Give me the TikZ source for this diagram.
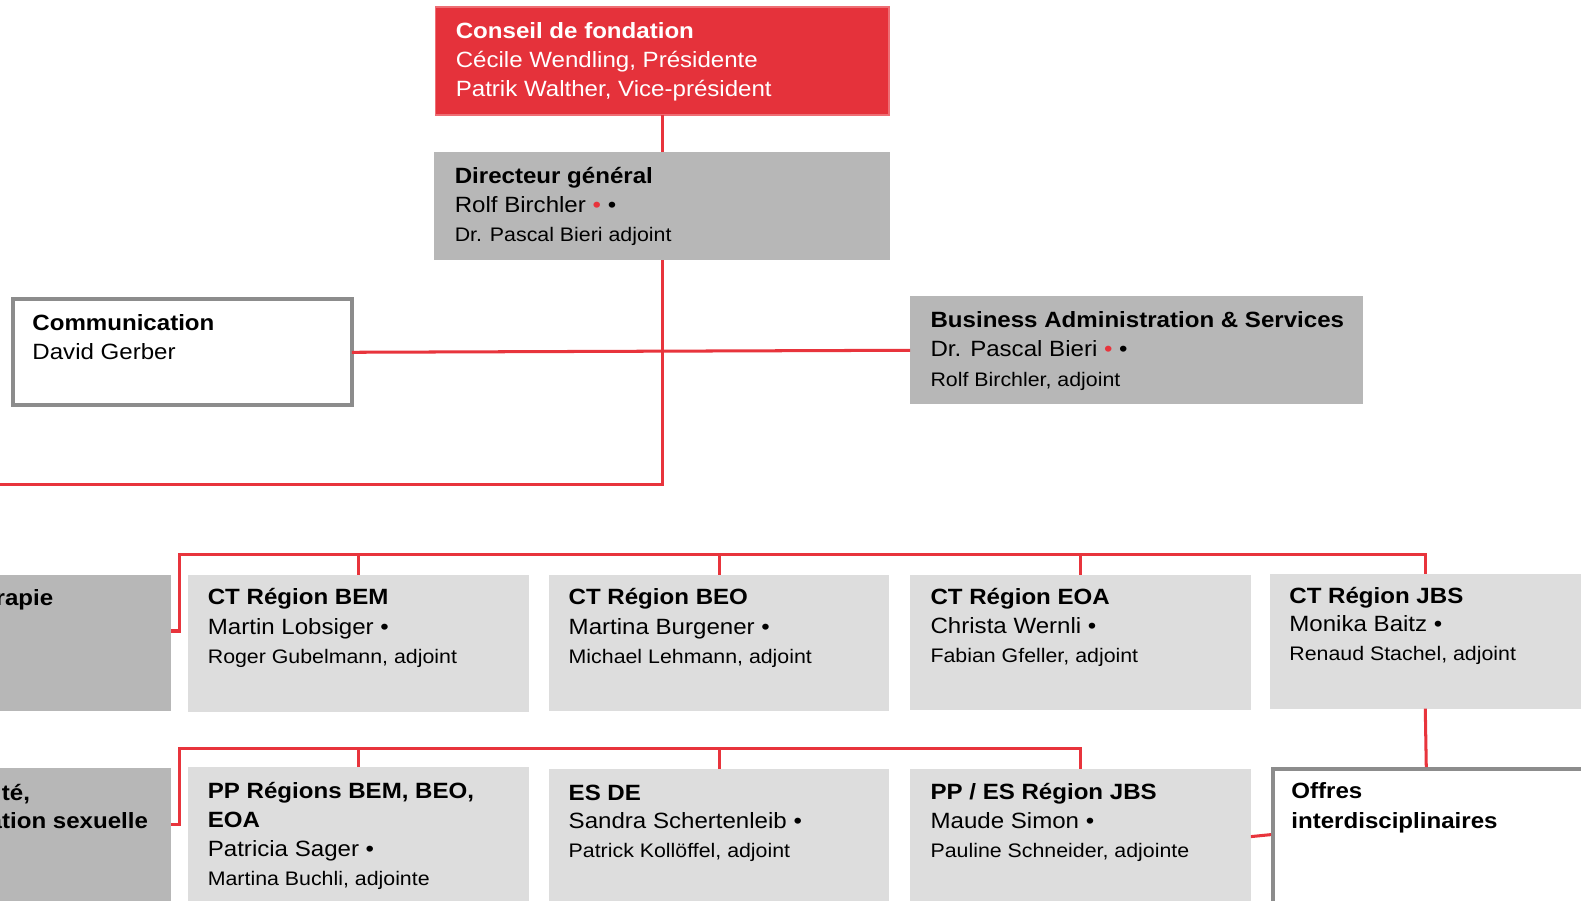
\documentclass[tikz,border=0pt]{standalone}
\usepackage{fontspec}
\setmainfont{Liberation Sans}[FakeStretch=1.09]
\usetikzlibrary{calc}
\definecolor{sred}{HTML}{E5323B}
\definecolor{sredlight}{HTML}{EE6E74}
\definecolor{lred}{HTML}{E8343C}
\definecolor{gdark}{HTML}{B7B7B7}
\definecolor{glight}{HTML}{DDDDDD}
\definecolor{gborder}{HTML}{8C8C8C}
\newcommand\orgbox[6]{\node[#2, minimum width={(#5-#3)*1bp}, minimum height={(#6-#4)*1bp}] (#1) at (#3,#4) {};}
\begin{document}
\begin{tikzpicture}[x=1bp,y=-1bp,
  bx/.style={inner sep=0, outer sep=0, anchor=north west, rectangle},
  redbox/.style={bx, fill=sred, draw=sredlight, line width=1.2bp},
  darkbox/.style={bx, fill=gdark},
  lightbox/.style={bx, fill=glight},
  whitebox/.style={bx, fill=white, draw=gborder, line width=4bp},
  ttl/.style={anchor=base west, inner sep=0, font=\fontsize{22}{26}\selectfont\bfseries},
  ttle/.style={ttl, anchor=base east},
  nm/.style={anchor=base west, inner sep=0, font=\fontsize{22}{26}\selectfont},
  sm/.style={anchor=base west, inner sep=0, font=\fontsize{19.5}{23}\selectfont},
  conn/.style={draw=lred, line width=3bp},
]
\useasboundingbox (0,0) rectangle (1568.5,893.8);
\clip (0,0) rectangle (1568.5,893.8);
\fill[white] (0,0) rectangle (1568.5,893.8);

% boxes
\orgbox{cf}{redbox}{432}{7}{882}{114}
\orgbox{dir}{darkbox}{431}{151}{883}{258}
\orgbox{com}{whitebox}{13}{297}{349}{402}
\orgbox{bas}{darkbox}{903}{294}{1352}{401}
\orgbox{lft1}{darkbox}{-10}{570}{170}{705}
\orgbox{bem}{lightbox}{187}{570}{525}{706}
\orgbox{beo}{lightbox}{545}{570}{882}{705}
\orgbox{eoa}{lightbox}{903}{570}{1241}{704}
\orgbox{jbs}{lightbox}{1260}{569}{1600}{703}
\orgbox{lft2}{darkbox}{-10}{762}{170}{910}
\orgbox{pp}{lightbox}{187}{761}{525}{910}
\orgbox{esde}{lightbox}{545}{763}{882}{910}
\orgbox{ppjbs}{lightbox}{903}{763}{1241}{910}
\orgbox{off}{whitebox}{1263}{763}{1600}{910}

% texts
\node[ttl, text=white] (cf1) at (452,38) {Conseil de fondation};
\node[nm, text=white] (cf2) at (452,67) {Cécile Wendling, Présidente};
\node[nm, text=white] (cf3) at (452,96) {Patrik Walther, Vice-président};

\node[ttl] (dir1) at (451,182.5) {Directeur général};
\node[nm] (dir2) at (451,211) {Rolf Birchler \textcolor{lred}{•} •};
\node[sm] (dir3) at (451,240) {Dr. Pascal Bieri adjoint};

\node[ttl] (com1) at (32,328) {Communication};
\node[nm] (com2) at (32,357) {David Gerber};

\node[ttl] (bas1) at (923,325) {Business Administration \& Services};
\node[nm] (bas2) at (923,354) {Dr. Pascal Bieri \textcolor{lred}{•} •};
\node[sm] (bas3) at (923,383) {Rolf Birchler, adjoint};

\node[ttle] (lft1a) at (53,601) {rapie};

\node[ttl] (bem1) at (206,600) {CT Région BEM};
\node[nm] (bem2) at (206,629) {Martin Lobsiger •};
\node[sm] (bem3) at (206,658) {Roger Gubelmann, adjoint};

\node[ttl] (beo1) at (564,600) {CT Région BEO};
\node[nm] (beo2) at (564,629) {Martina Burgener •};
\node[sm] (beo3) at (564,658) {Michael Lehmann, adjoint};

\node[ttl] (eoa1) at (923,600) {CT Région EOA};
\node[nm] (eoa2) at (923,628) {Christa Wernli •};
\node[sm] (eoa3) at (923,657) {Fabian Gfeller, adjoint};

\node[ttl] (jbs1) at (1279,598.5) {CT Région JBS};
\node[nm] (jbs2) at (1279,626.5) {Monika Baitz •};
\node[sm] (jbs3) at (1279,655.5) {Renaud Stachel, adjoint};

\node[ttle] (lft2a) at (30,794) {té,};
\node[ttle] (lft2b) at (147,822) {ation sexuelle};

\node[ttl] (pp1) at (206,792) {PP Régions BEM, BEO,};
\node[ttl] (pp2) at (206,820.5) {EOA};
\node[nm] (pp3) at (206,849.5) {Patricia Sager •};
\node[sm] (pp4) at (206,878.5) {Martina Buchli, adjointe};

\node[ttl] (es1) at (564,794) {ES DE};
\node[nm] (es2) at (564,822) {Sandra Schertenleib •};
\node[sm] (es3) at (564,851) {Patrick Kollöffel, adjoint};

\node[ttl] (pj1) at (923,793) {PP / ES Région JBS};
\node[nm] (pj2) at (923,822) {Maude Simon •};
\node[sm] (pj3) at (923,851) {Pauline Schneider, adjointe};

\node[ttl] (off1) at (1281,792.5) {Offres};
\node[ttl] (off2) at (1281,822) {interdisciplinaires};

% connectors
\coordinate (leftend) at (-10,481);
\coordinate (hub1) at (178,550);
\coordinate (hub2) at (178,743);
\draw[conn] (cf.south) -- (dir.north);
\draw[conn] (dir.south) |- (leftend);
\draw[conn] (com.east) -- (bas.west);
\draw[conn] ($(lft1.north east)+(0,56)$) -| (hub1) -| ($(jbs.north west)+(154,0)$);
\draw[conn] (bem.north) -- (bem.north |- hub1);
\draw[conn] (beo.north) -- (beo.north |- hub1);
\draw[conn] (eoa.north) -- (eoa.north |- hub1);
\draw[conn] ($(jbs.south west)+(154,0)$) -- ($(off.north west)+(152,-2)$);
\draw[conn] ($(lft2.north east)+(0,56)$) -| (hub2) -| (ppjbs.north);
\draw[conn] (pp.north) -- (pp.north |- hub2);
\draw[conn] (esde.north) -- (esde.north |- hub2);
\draw[conn] ($(ppjbs.north east)+(0,67)$) -- ($(off.north west)+(-2,65)$);
\end{tikzpicture}
\end{document}
